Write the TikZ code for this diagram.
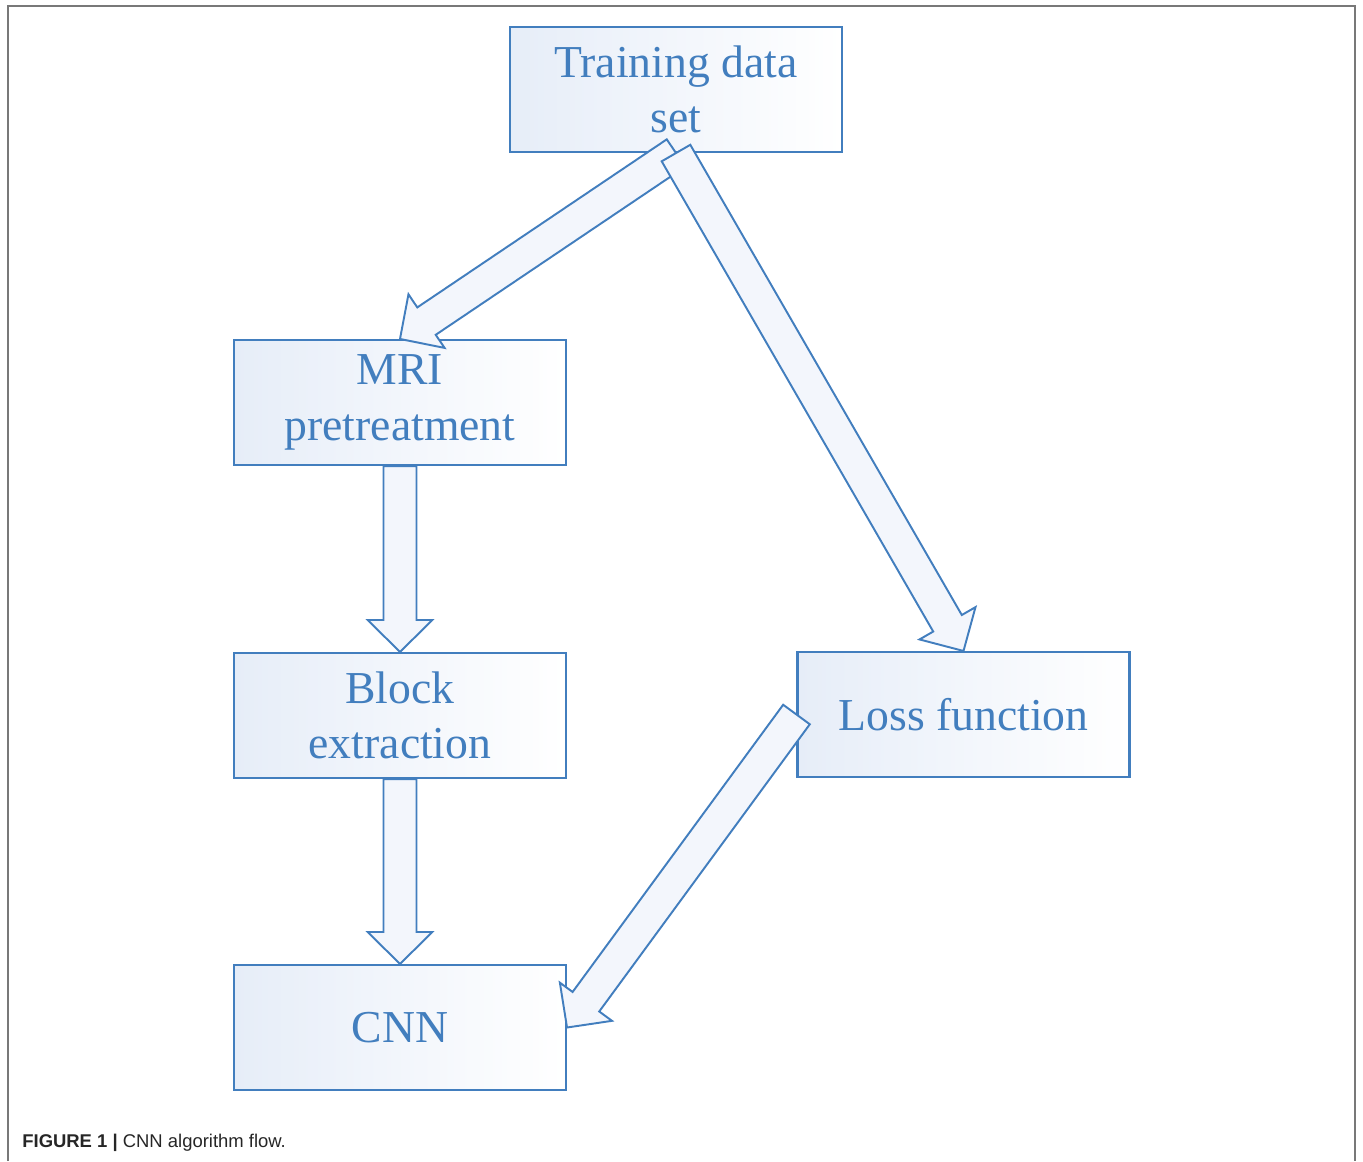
\documentclass[tikz,border=0pt]{standalone}
\usepackage{fontspec}
\setmainfont{Liberation Serif}
\newfontfamily\capfont{Liberation Sans}
\usepackage{tikz}
\usetikzlibrary{calc}
\tikzset{>=stealth}
\definecolor{flowblue}{RGB}{66,126,190}
\definecolor{boxtint}{RGB}{230,237,248}
\definecolor{arrowtint}{RGB}{243,246,252}
\definecolor{framegray}{RGB}{120,120,120}
\tikzset{
  flowbox/.style={draw=flowblue, line width=1.2pt, left color=boxtint, right color=white,
    minimum width=6.64cm, minimum height=2.5cm, inner sep=0pt,
    text=flowblue, align=center, font=\fontsize{26}{31.5}\selectfont},
  fatarrow/.style={draw=flowblue, line width=1.1pt, fill=arrowtint, line join=miter}
}
% hollow block arrow from one anchor to another
\newcommand{\shafthalf}{9.4pt}
\newcommand{\headhalf}{18.4pt}
\newcommand{\headlen}{18.2pt}
\newcommand{\blockarrow}[2]{%
  \coordinate (hb) at ($(#2)!\headlen!(#1)$);
  \draw[fatarrow] ($(#1)!\shafthalf!90:(#2)$) -- ($(hb)!\shafthalf!90:(#2)$)
    -- ($(hb)!\headhalf!90:(#2)$) -- (#2) -- ($(hb)!\headhalf!-90:(#2)$)
    -- ($(hb)!\shafthalf!-90:(#2)$) -- ($(#1)!\shafthalf!-90:(#2)$) -- cycle;
}
\begin{document}
\begin{tikzpicture}[x=0.02cm, y=-0.02cm]
  \useasboundingbox (0,0) rectangle (1363,1161);
  \draw[framegray, line width=1.1pt](8,1161)--(8,6)--(1355,6)--(1355,1161);
  % boxes
  \node[flowbox] (train) at (676,89.5) {Training data\\set};
  \node[flowbox] (mri) at (400,402.5) {MRI\\pretreatment};
  \node[flowbox] (block) at (400,715.5) {Block\\extraction};
  \node[flowbox] (cnn) at (400,1027.5) {CNN};
  \node[flowbox] (loss) at (963.5,714.5) {Loss function};
  % arrows
  \blockarrow{train.south}{mri.north}
  \blockarrow{train.south}{loss.north}
  \blockarrow{mri.south}{block.north}
  \blockarrow{block.south}{cnn.north}
  \blockarrow{loss.west}{cnn.east}
  \node[anchor=base west, inner sep=0pt, font=\capfont\fontsize{10.5}{12}\selectfont, text=black!85] (cap) at (22,1147)
    {\textbf{FIGURE 1 |} CNN algorithm flow.};
\end{tikzpicture}
\end{document}
